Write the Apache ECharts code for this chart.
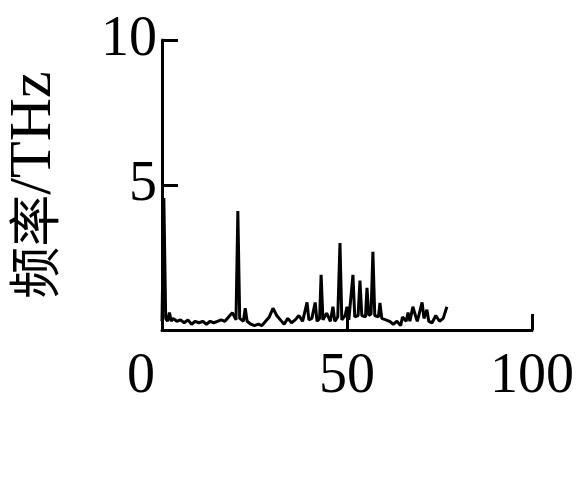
<!DOCTYPE html>
<html>
<head>
<meta charset="utf-8">
<script src="https://cdn.jsdelivr.net/npm/echarts@6/dist/echarts.min.js"></script>
<style>
html, body { margin: 0; padding: 0; background: #fff; }
#main { width: 582px; height: 486px; }
</style>
</head>
<body>
<div id="main"></div>
<script>
// 横坐标 / 频率 读自原图
var xVals = [0, 0.5, 1, 1.5, 2, 2.5, 3, 4, 5, 6, 7, 8, 9, 10, 11, 12, 13, 14, 15, 16, 17, 18, 19, 20,
    20.5, 21, 22, 22.5, 23, 24, 25, 26, 27, 28, 29, 30, 31, 32, 33, 34, 35, 36, 37, 38,
    39.2, 39.7, 40.5, 41.4, 41.9, 42.6, 43, 43.5, 44.5, 45.5, 46.2, 46.7, 47.5, 48.1, 48.6,
    49.5, 50, 50.5, 51.6, 52.1, 53, 53.5, 54, 55, 55.4, 55.9, 56.5, 57, 57.5, 58.5, 58.9, 59.4,
    60.5, 61.5, 62.5, 63.5, 64.5, 65, 66, 66.5, 67, 67.8, 68.5, 69, 70.3, 70.8, 71.6, 72.1,
    73, 74, 75, 76, 77];
var freq = [0.3, 4.55, 0.4, 0.3, 0.6, 0.3, 0.4, 0.3, 0.35, 0.25, 0.35, 0.2, 0.3, 0.25, 0.3, 0.2, 0.3, 0.25, 0.3, 0.35, 0.3, 0.45, 0.6, 0.35,
    4.1, 0.4, 0.3, 0.75, 0.3, 0.2, 0.15, 0.2, 0.15, 0.3, 0.45, 0.75, 0.5, 0.35, 0.2, 0.4, 0.25, 0.35, 0.5, 0.3,
    0.95, 0.35, 0.4, 0.95, 0.3, 0.4, 1.9, 0.35, 0.58, 0.3, 0.8, 0.3, 0.45, 3.0, 0.35,
    0.5, 0.8, 0.35, 1.9, 0.45, 0.5, 1.7, 0.5, 0.45, 1.45, 0.5, 0.55, 2.7, 0.5, 0.45, 0.93, 0.4,
    0.35, 0.3, 0.2, 0.3, 0.15, 0.45, 0.3, 0.6, 0.3, 0.8, 0.5, 0.3, 0.95, 0.4, 0.7, 0.3,
    0.25, 0.5, 0.3, 0.4, 0.8];
var xTicks = [0, 50, 100];
var yTicks = [0, 5, 10];

var seriesData = [];
for (var i = 0; i < xVals.length; i++) {
    seriesData.push([xVals[i], freq[i]]);
}

var serif = "'Liberation Serif', 'Noto Sans CJK SC', serif";
var chart = echarts.init(document.getElementById('main'));
var option = {
    backgroundColor: '#fff',
    animation: false,
    grid: {
        left: 162,
        right: 50,
        top: 40,
        bottom: 156,
        containLabel: false,
        outerBoundsMode: 'none'
    },
    xAxis: {
        type: 'value',
        min: xTicks[0],
        max: xTicks[xTicks.length - 1],
        interval: xTicks[1] - xTicks[0],
        axisLine: { lineStyle: { color: '#000', width: 3 } },
        axisTick: { inside: true, length: 16, lineStyle: { color: '#000', width: 3 } },
        axisLabel: {
            color: '#000', fontSize: 56, fontFamily: serif, margin: 19,
            formatter: function (v) { return v === 0 ? '{z|0}' : String(v); },
            rich: { z: { fontSize: 56, fontFamily: serif, color: '#000', padding: [0, 42, 0, 0] } }
        },
        splitLine: { show: false }
    },
    yAxis: {
        type: 'value',
        min: yTicks[0],
        max: yTicks[yTicks.length - 1],
        interval: yTicks[1] - yTicks[0],
        name: '{a|频率}{b|/THz}',
        nameLocation: 'middle',
        nameGap: 98,
        nameTextStyle: {
            color: '#000',
            rich: {
                a: { fontSize: 52, fontFamily: "'Noto Sans CJK SC', serif", color: '#000' },
                b: { fontSize: 60, fontFamily: serif, color: '#000' }
            }
        },
        axisLine: { show: true, lineStyle: { color: '#000', width: 3 } },
        axisTick: { show: true, inside: true, length: 16, lineStyle: { color: '#000', width: 3 } },
        axisLabel: { color: '#000', fontSize: 56, fontFamily: serif, margin: 5, showMinLabel: false },
        splitLine: { show: false }
    },
    series: [{
        type: 'line',
        data: seriesData,
        symbol: 'none',
        lineStyle: { color: '#000', width: 3 }
    }]
};
chart.setOption(option);
</script>
</body>
</html>
